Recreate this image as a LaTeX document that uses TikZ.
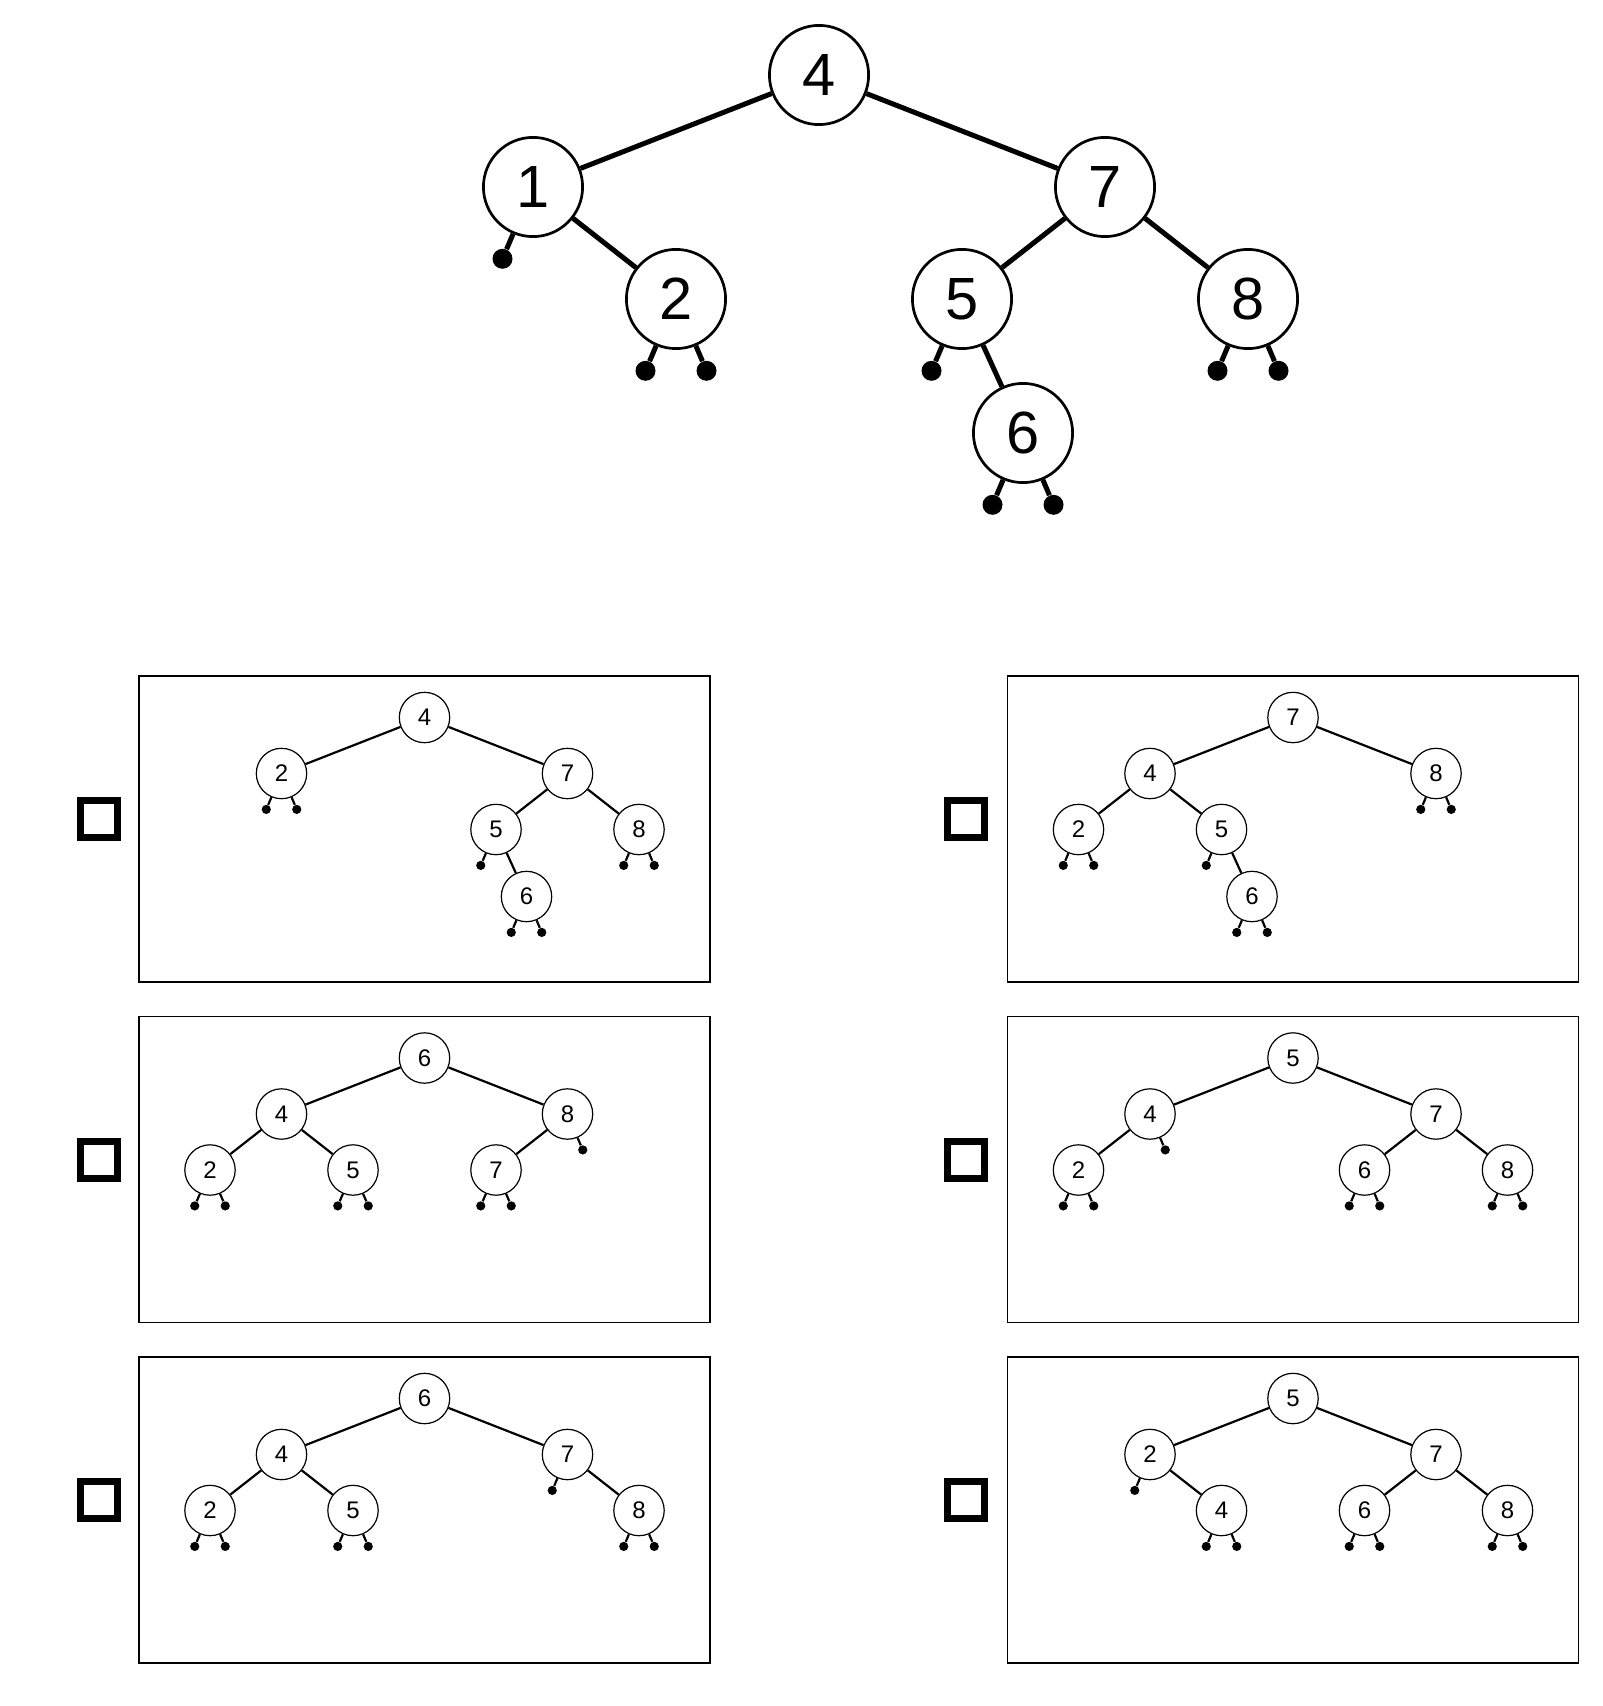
\documentclass[tikz,border=0pt]{standalone}
\usepackage{fontspec}
\setmainfont{Liberation Sans}
\usetikzlibrary{calc}
\tikzset{
  bignode/.style={circle,draw,fill=white,line width=1.35pt,inner sep=0pt,minimum size=49.6pt,font=\fontsize{29.8}{30}\selectfont},
  bigdot/.style={circle,fill=black,inner sep=0pt,minimum size=10pt},
  bigedge/.style={line width=2.5pt},
  smallnode/.style={circle,draw,fill=white,line width=0.6pt,inner sep=0pt,minimum size=25.2pt,font=\fontsize{12}{12}\selectfont},
  smalldot/.style={circle,fill=black,inner sep=0pt,minimum size=4.6pt},
  smalledge/.style={line width=1.1pt},
  optbox/.style={draw,line width=0.65pt,minimum width=285.5pt,minimum height=153pt,inner sep=0pt},
  tickbox/.style={draw,line width=3.5pt,minimum size=18.5pt,inner sep=0pt}
}
% null leaves: name, parent
\newcommand{\bigL}[2]{\node[bigdot] (#1) at ($(#2)+(-30.5,71.8)$) {}; \draw[bigedge] (#2) -- (#1);}
\newcommand{\bigR}[2]{\node[bigdot] (#1) at ($(#2)+(30.5,71.8)$) {}; \draw[bigedge] (#2) -- (#1);}
\newcommand{\smL}[2]{\node[smalldot] (#1) at ($(#2)+(-15.25,35.9)$) {}; \draw[smalledge] (#2) -- (#1);}
\newcommand{\smR}[2]{\node[smalldot] (#1) at ($(#2)+(15.25,35.9)$) {}; \draw[smalledge] (#2) -- (#1);}
\begin{document}
\begin{tikzpicture}[x=0.5pt,y=-0.5pt]
\useasboundingbox (0,0) rectangle (1602,1706);

% ---------- main tree ----------
\node[bignode] (m4) at (819,75) {4};
\node[bignode] (m1) at (533,187) {1};
\node[bignode] (m7) at (1105,187) {7};
\node[bignode] (m2) at (676,299) {2};
\node[bignode] (m5) at (962,299) {5};
\node[bignode] (m8) at (1248,299) {8};
\node[bignode] (m6) at (1023,433) {6};
\draw[bigedge] (m4) -- (m1);
\draw[bigedge] (m4) -- (m7);
\draw[bigedge] (m1) -- (m2);
\draw[bigedge] (m7) -- (m5);
\draw[bigedge] (m7) -- (m8);
\draw[bigedge] (m5) -- (m6);
\bigL{m1l}{m1}
\bigL{m2l}{m2} \bigR{m2r}{m2}
\bigL{m5l}{m5}
\bigL{m8l}{m8} \bigR{m8r}{m8}
\bigL{m6l}{m6} \bigR{m6r}{m6}

% ---------- option boxes ----------
\node[optbox] (boxA) at (424.5,829) {};
\node[optbox] (boxB) at (1293,829) {};
\node[optbox] (boxC) at (424.5,1169.5) {};
\node[optbox] (boxD) at (1293,1169.5) {};
\node[optbox] (boxE) at (424.5,1510) {};
\node[optbox] (boxF) at (1293,1510) {};
\node[tickbox] (chkA) at (98.7,819) {};
\node[tickbox] (chkB) at (966.4,819) {};
\node[tickbox] (chkC) at (98.7,1159.5) {};
\node[tickbox] (chkD) at (966.4,1159.5) {};
\node[tickbox] (chkE) at (98.7,1500) {};
\node[tickbox] (chkF) at (966.4,1500) {};

% ---------- tree A ----------
\begin{scope}[shift={(424.5,717.5)}]
\node[smallnode] (a4) at (0,0) {4};
\node[smallnode] (a2) at (-143,56) {2};
\node[smallnode] (a7) at (143,56) {7};
\node[smallnode] (a5) at (71.5,112) {5};
\node[smallnode] (a8) at (214.5,112) {8};
\node[smallnode] (a6) at (102,179) {6};
\draw[smalledge] (a4) -- (a2);
\draw[smalledge] (a4) -- (a7);
\draw[smalledge] (a7) -- (a5);
\draw[smalledge] (a7) -- (a8);
\draw[smalledge] (a5) -- (a6);
\smL{a2l}{a2} \smR{a2r}{a2}
\smL{a5l}{a5}
\smL{a8l}{a8} \smR{a8r}{a8}
\smL{a6l}{a6} \smR{a6r}{a6}
\end{scope}

% ---------- tree B ----------
\begin{scope}[shift={(1293,717.5)}]
\node[smallnode] (b7) at (0,0) {7};
\node[smallnode] (b4) at (-143,56) {4};
\node[smallnode] (b8) at (143,56) {8};
\node[smallnode] (b2) at (-214.5,112) {2};
\node[smallnode] (b5) at (-71.5,112) {5};
\node[smallnode] (b6) at (-41,179) {6};
\draw[smalledge] (b7) -- (b4);
\draw[smalledge] (b7) -- (b8);
\draw[smalledge] (b4) -- (b2);
\draw[smalledge] (b4) -- (b5);
\draw[smalledge] (b5) -- (b6);
\smL{b8l}{b8} \smR{b8r}{b8}
\smL{b2l}{b2} \smR{b2r}{b2}
\smL{b5l}{b5}
\smL{b6l}{b6} \smR{b6r}{b6}
\end{scope}

% ---------- tree C ----------
\begin{scope}[shift={(424.5,1058)}]
\node[smallnode] (c6) at (0,0) {6};
\node[smallnode] (c4) at (-143,56) {4};
\node[smallnode] (c8) at (143,56) {8};
\node[smallnode] (c2) at (-214.5,112) {2};
\node[smallnode] (c5) at (-71.5,112) {5};
\node[smallnode] (c7) at (71.5,112) {7};
\draw[smalledge] (c6) -- (c4);
\draw[smalledge] (c6) -- (c8);
\draw[smalledge] (c4) -- (c2);
\draw[smalledge] (c4) -- (c5);
\draw[smalledge] (c8) -- (c7);
\smR{c8r}{c8}
\smL{c2l}{c2} \smR{c2r}{c2}
\smL{c5l}{c5} \smR{c5r}{c5}
\smL{c7l}{c7} \smR{c7r}{c7}
\end{scope}

% ---------- tree D ----------
\begin{scope}[shift={(1293,1058)}]
\node[smallnode] (d5) at (0,0) {5};
\node[smallnode] (d4) at (-143,56) {4};
\node[smallnode] (d7) at (143,56) {7};
\node[smallnode] (d2) at (-214.5,112) {2};
\node[smallnode] (d6) at (71.5,112) {6};
\node[smallnode] (d8) at (214.5,112) {8};
\draw[smalledge] (d5) -- (d4);
\draw[smalledge] (d5) -- (d7);
\draw[smalledge] (d4) -- (d2);
\draw[smalledge] (d7) -- (d6);
\draw[smalledge] (d7) -- (d8);
\smR{d4r}{d4}
\smL{d2l}{d2} \smR{d2r}{d2}
\smL{d6l}{d6} \smR{d6r}{d6}
\smL{d8l}{d8} \smR{d8r}{d8}
\end{scope}

% ---------- tree E ----------
\begin{scope}[shift={(424.5,1398.5)}]
\node[smallnode] (e6) at (0,0) {6};
\node[smallnode] (e4) at (-143,56) {4};
\node[smallnode] (e7) at (143,56) {7};
\node[smallnode] (e2) at (-214.5,112) {2};
\node[smallnode] (e5) at (-71.5,112) {5};
\node[smallnode] (e8) at (214.5,112) {8};
\draw[smalledge] (e6) -- (e4);
\draw[smalledge] (e6) -- (e7);
\draw[smalledge] (e4) -- (e2);
\draw[smalledge] (e4) -- (e5);
\draw[smalledge] (e7) -- (e8);
\smL{e7l}{e7}
\smL{e2l}{e2} \smR{e2r}{e2}
\smL{e5l}{e5} \smR{e5r}{e5}
\smL{e8l}{e8} \smR{e8r}{e8}
\end{scope}

% ---------- tree F ----------
\begin{scope}[shift={(1293,1398.5)}]
\node[smallnode] (f5) at (0,0) {5};
\node[smallnode] (f2) at (-143,56) {2};
\node[smallnode] (f7) at (143,56) {7};
\node[smallnode] (f4) at (-71.5,112) {4};
\node[smallnode] (f6) at (71.5,112) {6};
\node[smallnode] (f8) at (214.5,112) {8};
\draw[smalledge] (f5) -- (f2);
\draw[smalledge] (f5) -- (f7);
\draw[smalledge] (f2) -- (f4);
\draw[smalledge] (f7) -- (f6);
\draw[smalledge] (f7) -- (f8);
\smL{f2l}{f2}
\smL{f4l}{f4} \smR{f4r}{f4}
\smL{f6l}{f6} \smR{f6r}{f6}
\smL{f8l}{f8} \smR{f8r}{f8}
\end{scope}
\end{tikzpicture}
\end{document}
